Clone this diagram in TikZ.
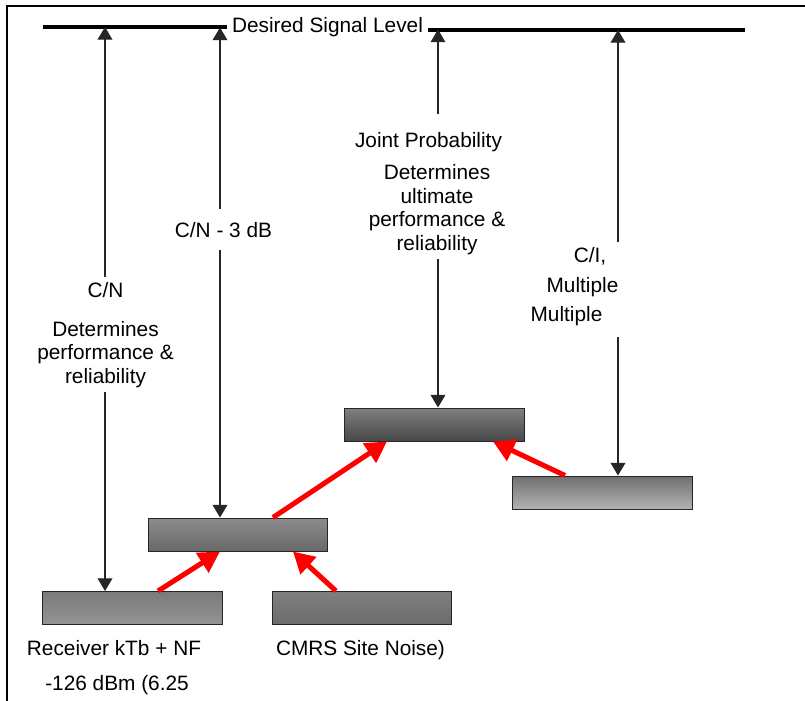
\documentclass[tikz,border=0pt]{standalone}
\usepackage{fontspec}
\setmainfont{Liberation Sans}
\usetikzlibrary{arrows.meta,calc}
\tikzset{lab/.style={font=\fontsize{14.8}{16.6}\selectfont, align=center}}
\tikzset{bar/.style={draw=black!85, line width=0.7pt, minimum width=4.475cm, minimum height=0.825cm, inner sep=0pt}}
\tikzset{sig/.style={draw=black!85, line width=0.75pt, -{Triangle[length=9pt,width=10.5pt]}}}
\tikzset{feed/.style={draw=red, line width=3.6pt, -{Triangle[length=15pt,width=16pt]}}}
\tikzset{level/.style={line width=2.4pt}}

\begin{document}
\begin{tikzpicture}[x=0.025cm, y=-0.025cm]
  \useasboundingbox (0,0) rectangle (805,700);
  \draw[line width=1.4pt] (7,710) -- (7,6) -- (815,6);
  % signal level line
  \node[lab, anchor=base] (lvl) at (327.5,32) {Desired Signal Level};
  \coordinate (lvlL) at (43,27);
  \coordinate (lvlR) at (745,30);
  \draw[level] (lvlL) -- (lvlL -| lvl.west);
  \draw[level] (lvl.east |- lvlR) -- (lvlR);
  \coordinate (s1) at (105,27);
  \coordinate (s2) at (220,27.5);
  \coordinate (s3) at (438,29.5);
  \coordinate (s4) at (618,30);
  % levels
  \node[bar, top color=black!52, bottom color=black!42] (rx) at (132.5,608) {};
  \node[bar, top color=black!50, bottom color=black!58] (cmrs) at (362,608) {};
  \node[bar, top color=black!45, bottom color=black!59] (mid) at (238,534.5) {};
  \node[bar, top color=black!50, bottom color=black!72] (joint) at (434.5,424.5) {};
  \node[bar, top color=black!56, bottom color=black!30] (intf) at (602.5,492.5) {};
  % labels
  \node[lab, anchor=base] (cn) at (105.5,297) {C/N};
  \node[lab, anchor=base] (cnd) at (105.5,383) {Determines\\performance \&\\reliability};
  \node[lab, anchor=base, inner ysep=9pt] (cn3) at (223.5,237) {C/N - 3 dB};
  \node[lab, anchor=base, inner ysep=12.8pt] (jp) at (428.5,147) {Joint Probability};
  \node[lab, anchor=base] (jd) at (437,250) {Determines\\ultimate\\performance \&\\reliability};
  \node[lab, anchor=base] (ci1) at (590,262) {C/I,};
  \node[lab, anchor=base] (ci2) at (582.5,292) {Multiple};
  \node[lab, anchor=base, inner ysep=8pt] (ci3) at (566.5,321) {Multiple};
  \node[lab, anchor=base] (rxl) at (114,655) {Receiver kTb + NF};
  \node[lab, anchor=base] (rxl2) at (117,690) {-126 dBm (6.25};
  \node[lab, anchor=base] (cml) at (360.5,655) {CMRS Site Noise)};
  % margins
  \draw[sig] (cn.north -| s1) -- (s1);
  \draw[sig] (cnd.south -| s1) -- (rx.north -| s1);
  \draw[sig] (cn3.north -| s2) -- (s2);
  \draw[sig] (cn3.south -| s2) -- (mid.north -| s2);
  \draw[sig] (jp.north -| s3) -- (s3);
  \draw[sig] (jd.south -| s3) -- (joint.north -| s3);
  \draw[sig] (ci1.north -| s4) -- (s4);
  \draw[sig] (ci3.south -| s4) -- (intf.north -| s4);
  % noise adds up
  \draw[feed] ($(rx.north)+(25.5,0)$) -- ($(mid.south)+(-18,0)$);
  \draw[feed] ($(cmrs.north)+(-26,0)$) -- ($(mid.south)+(55,0)$);
  \draw[feed] ($(mid.north)+(35,0)$) -- ($(joint.south)+(-47.5,0)$);
  \draw[feed] ($(intf.north)+(-37.5,0)$) -- ($(joint.south)+(58.5,0)$);
\end{tikzpicture}
\end{document}
